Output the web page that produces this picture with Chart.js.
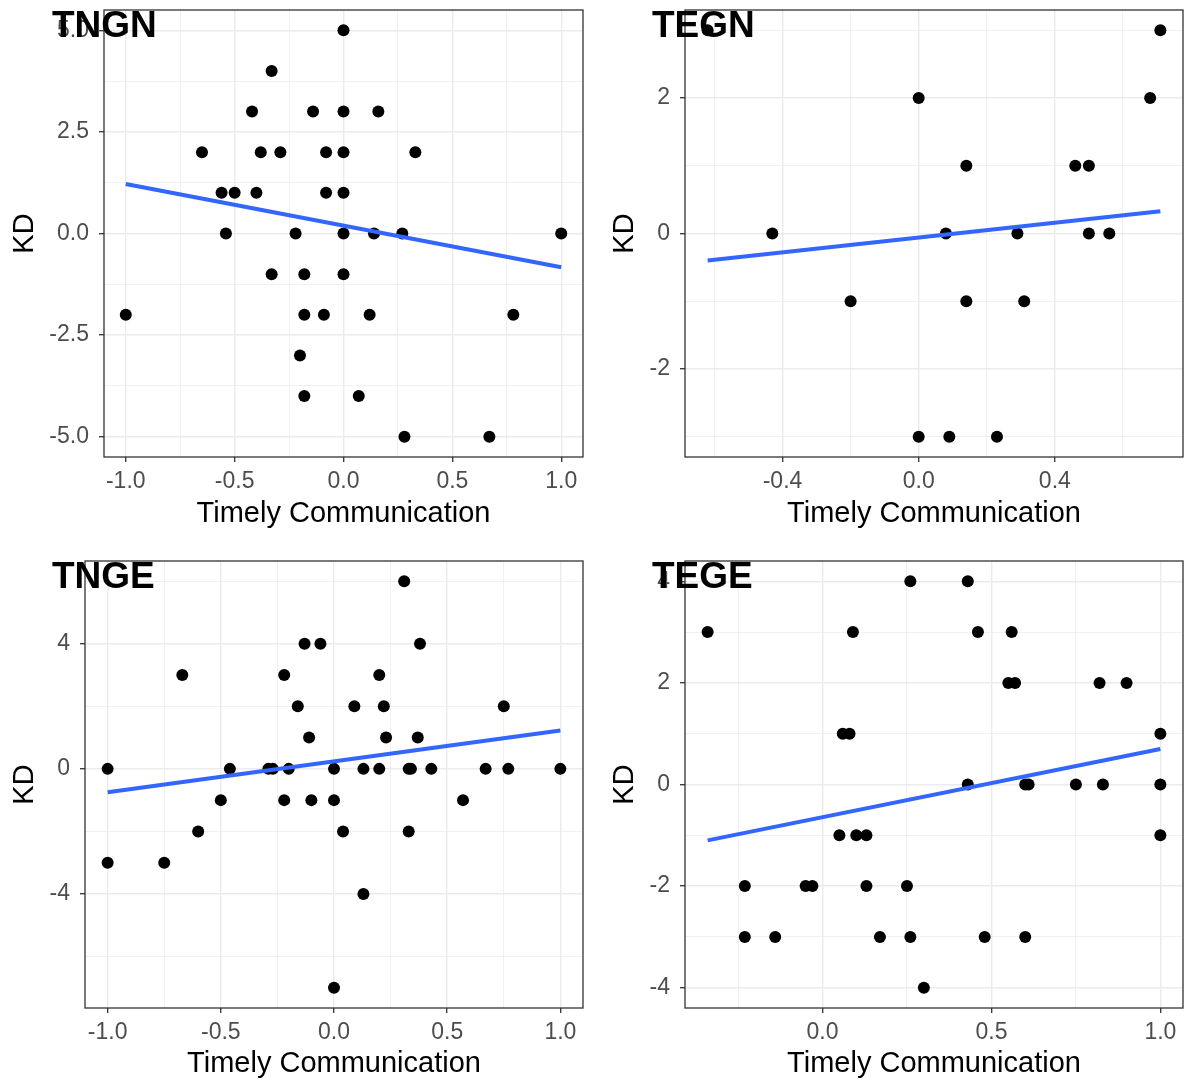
<!DOCTYPE html>
<html>
<head>
<meta charset="utf-8">
<title>KD vs Timely Communication</title>
<script src="https://cdn.jsdelivr.net/npm/chart.js@4/dist/chart.umd.min.js"></script>
<style>
  body { margin: 0; background: #fff; }
  #wrap { position: relative; width: 1185px; height: 1085px; overflow: hidden; }
  #wrap canvas { position: absolute; }
  .tag {
    position: absolute; z-index: 2; line-height: 1; color: #000;
    font: bold 37px "Liberation Sans", Arial, Helvetica, sans-serif;
  }
</style>
</head>
<body>
<div id="wrap">
  <canvas id="tngn" width="592" height="540" style="left:0;top:0"></canvas>
  <canvas id="tegn" width="597" height="540" style="left:592px;top:0"></canvas>
  <canvas id="tnge" width="592" height="540" style="left:0;top:545px"></canvas>
  <canvas id="tege" width="597" height="540" style="left:592px;top:545px"></canvas>
  <div class="tag" style="left:52px;top:4px">TNGN</div>
  <div class="tag" style="left:652px;top:4px">TEGN</div>
  <div class="tag" style="left:52px;top:555px">TNGE</div>
  <div class="tag" style="left:652px;top:555px">TEGE</div>
</div>
<script>
// TNGN
const tngnX = [0, -0.33, -0.42, -0.14, 0, 0.16, -0.65, -0.38, -0.29, -0.08, 0, 0.33,
  -0.56, -0.5, -0.4, -0.08, 0, -0.54, -0.22, 0, 0.14, 0.27, 1, -0.33, -0.18, 0,
  -1, -0.18, -0.09, 0.12, 0.78, -0.2, -0.18, 0.07, 0.28, 0.67];
const tngnY = [5, 4, 3, 3, 3, 3, 2, 2, 2, 2, 2, 2,
  1, 1, 1, 1, 1, 0, 0, 0, 0, 0, 0, -1, -1, -1,
  -2, -2, -2, -2, -2, -3, -4, -4, -5, -5];
const tngnFitX = [-1, 1];
const tngnFitY = [1.22, -0.83];

// TEGN
const tegnX = [-0.62, 0.71, 0, 0.68, 0.14, 0.46, 0.5, -0.43, 0.08, 0.29, 0.5, 0.56,
  -0.2, 0.14, 0.31, 0, 0.09, 0.23];
const tegnY = [3, 3, 2, 2, 1, 1, 1, 0, 0, 0, 0, 0, -1, -1, -1, -3, -3, -3];
const tegnFitX = [-0.62, 0.71];
const tegnFitY = [-0.40, 0.33];

// TNGE
const tngeX = [0.31, -0.13, -0.06, 0.38, -0.67, -0.22, 0.2, -0.16, 0.09, 0.22, 0.75,
  -0.11, 0.23, 0.37, -1, -0.46, -0.29, -0.27, -0.2, 0, 0.13, 0.2, 0.33, 0.34, 0.43,
  0.67, 0.77, 1, -0.5, -0.22, -0.1, 0, 0.57, -0.6, 0.04, 0.33, -1, -0.75, 0.13, 0];
const tngeY = [6, 4, 4, 4, 3, 3, 3, 2, 2, 2, 2,
  1, 1, 1, 0, 0, 0, 0, 0, 0, 0, 0, 0, 0, 0,
  0, 0, 0, -1, -1, -1, -1, -1, -2, -2, -2, -3, -3, -4, -7];
const tngeFitX = [-1, 1];
const tngeFitY = [-0.75, 1.23];

// TEGE
const tegeX = [0.26, 0.43, -0.34, 0.09, 0.46, 0.56, 0.55, 0.57, 0.82, 0.9, 0.06, 0.08, 1,
  0.43, 0.6, 0.61, 0.75, 0.83, 1, 0.05, 0.1, 0.13, 1, -0.23, -0.05, -0.03, 0.13, 0.25,
  -0.23, -0.14, 0.17, 0.26, 0.48, 0.6, 0.3];
const tegeY = [4, 4, 3, 3, 3, 3, 2, 2, 2, 2, 1, 1, 1,
  0, 0, 0, 0, 0, 0, -1, -1, -1, -1, -2, -2, -2, -2, -2,
  -3, -3, -3, -3, -3, -3, -4];
const tegeFitX = [-0.34, 1];
const tegeFitY = [-1.10, 0.70];

// axis breaks and their labels
const xTicksWide = [-1, -0.5, 0, 0.5, 1];
const xLabelsWide = ['-1.0', '-0.5', '0.0', '0.5', '1.0'];
const tegnXTicks = [-0.4, 0, 0.4];
const tegnXLabels = ['-0.4', '0.0', '0.4'];
const tegeXTicks = [0, 0.5, 1];
const tegeXLabels = ['0.0', '0.5', '1.0'];
const tngnYTicks = [-5, -2.5, 0, 2.5, 5];
const tngnYLabels = ['-5.0', '-2.5', '0.0', '2.5', '5.0'];
const tegnYTicks = [-2, 0, 2];
const tegnYLabels = ['-2', '0', '2'];
const tngeYTicks = [-4, 0, 4];
const tngeYLabels = ['-4', '0', '4'];
const tegeYTicks = [-4, -2, 0, 2, 4];
const tegeYLabels = ['-4', '-2', '0', '2', '4'];

const xTitle = 'Timely Communication';
const yTitle = 'KD';

const TICK_SIZE = 23;
const TITLE_SIZE = 29;
const HALF_TITLE_LINE = TITLE_SIZE * 1.2 / 2;

Chart.defaults.font.family = '"Liberation Sans", Arial, Helvetica, sans-serif';

function padRange(vals) {
  const lo = Math.min(...vals), hi = Math.max(...vals);
  const pad = (hi - lo) * 0.05;
  return [lo - pad, hi + pad];
}

// major breaks plus the minor lines half way between them
function gridValues(major, lo, hi) {
  const half = (major[1] - major[0]) / 2;
  const out = [];
  for (let v = major[0] - half; v <= major[major.length - 1] + half + 1e-9; v += half) {
    if (v >= lo - 1e-9 && v <= hi + 1e-9) out.push(+v.toFixed(6));
  }
  return out;
}

function majorIndex(major, v) {
  return major.findIndex(m => Math.abs(m - v) < 1e-6);
}

function axis(major, labels, range, title, opts) {
  const isMajor = c => c.tick && majorIndex(major, c.tick.value) >= 0;
  return {
    type: 'linear',
    bounds: 'data',
    min: range[0],
    max: range[1],
    afterBuildTicks: s => { s.ticks = gridValues(major, range[0], range[1]).map(v => ({ value: v })); },
    afterFit: opts.fit,
    ticks: {
      autoSkip: false,
      maxRotation: 0,
      padding: opts.tickPad,
      color: '#4D4D4D',
      font: { size: TICK_SIZE },
      callback: v => { const i = majorIndex(major, v); return i < 0 ? '' : labels[i]; }
    },
    grid: {
      color: '#EBEBEB',
      lineWidth: c => isMajor(c) ? 1.4 : 0.7,
      tickLength: 5,
      tickWidth: 1.3,
      tickColor: c => isMajor(c) ? '#333333' : 'rgba(0,0,0,0)'
    },
    border: { display: false },
    title: { display: true, text: title, color: '#000', font: { size: TITLE_SIZE }, padding: opts.titlePad }
  };
}

// ggplot-style panel frame drawn over the marks
const panelBorder = {
  id: 'panelBorder',
  afterDatasetsDraw(chart) {
    const a = chart.chartArea, ctx = chart.ctx;
    ctx.save();
    ctx.strokeStyle = '#333333';
    ctx.lineWidth = 1.3;
    ctx.strokeRect(a.left, a.top, a.right - a.left, a.bottom - a.top);
    ctx.restore();
  }
};

function panel(id, xs, ys, fitX, fitY, xMajor, xLabels, yMajor, yLabels, box) {
  const canvas = document.getElementById(id);
  const W = canvas.width, H = canvas.height;
  const xr = padRange(xs.concat(fitX));
  const yr = padRange(ys);
  new Chart(canvas, {
    type: 'scatter',
    data: {
      datasets: [
        {
          type: 'line',
          order: 0,
          data: fitX.map((x, i) => ({ x, y: fitY[i] })),
          borderColor: '#3366FF',
          borderWidth: 4,
          pointRadius: 0,
          fill: false
        },
        {
          order: 1,
          data: xs.map((x, i) => ({ x, y: ys[i] })),
          backgroundColor: '#000',
          borderWidth: 0,
          pointRadius: 6
        }
      ]
    },
    options: {
      responsive: false,
      animation: false,
      devicePixelRatio: 1,
      events: [],
      layout: { padding: { left: 0, top: box.top, right: W - box.right, bottom: 0 } },
      plugins: { legend: { display: false }, tooltip: { enabled: false } },
      scales: {
        x: axis(xMajor, xLabels, xr, xTitle, {
          tickPad: 6,
          titlePad: { top: 0, bottom: H - box.xTitleY - HALF_TITLE_LINE },
          fit: s => { s.height = H - box.bottom; s.paddingLeft = 0; s.paddingRight = 0; }
        }),
        y: axis(yMajor, yLabels, yr, yTitle, {
          tickPad: 10,
          titlePad: { top: box.yTitleX - HALF_TITLE_LINE, bottom: 0 },
          fit: s => { s.width = box.left; s.paddingTop = 0; s.paddingBottom = 0; }
        })
      }
    },
    plugins: [panelBorder]
  });
}

panel('tngn', tngnX, tngnY, tngnFitX, tngnFitY, xTicksWide, xLabelsWide, tngnYTicks, tngnYLabels,
  { left: 104, right: 583, top: 10, bottom: 457, yTitleX: 25, xTitleY: 514 });
panel('tegn', tegnX, tegnY, tegnFitX, tegnFitY, tegnXTicks, tegnXLabels, tegnYTicks, tegnYLabels,
  { left: 93, right: 591, top: 10, bottom: 457, yTitleX: 33, xTitleY: 514 });
panel('tnge', tngeX, tngeY, tngeFitX, tngeFitY, xTicksWide, xLabelsWide, tngeYTicks, tngeYLabels,
  { left: 85, right: 583, top: 16, bottom: 463, yTitleX: 25, xTitleY: 519 });
panel('tege', tegeX, tegeY, tegeFitX, tegeFitY, tegeXTicks, tegeXLabels, tegeYTicks, tegeYLabels,
  { left: 93, right: 591, top: 16, bottom: 463, yTitleX: 33, xTitleY: 519 });
</script>
</body>
</html>
